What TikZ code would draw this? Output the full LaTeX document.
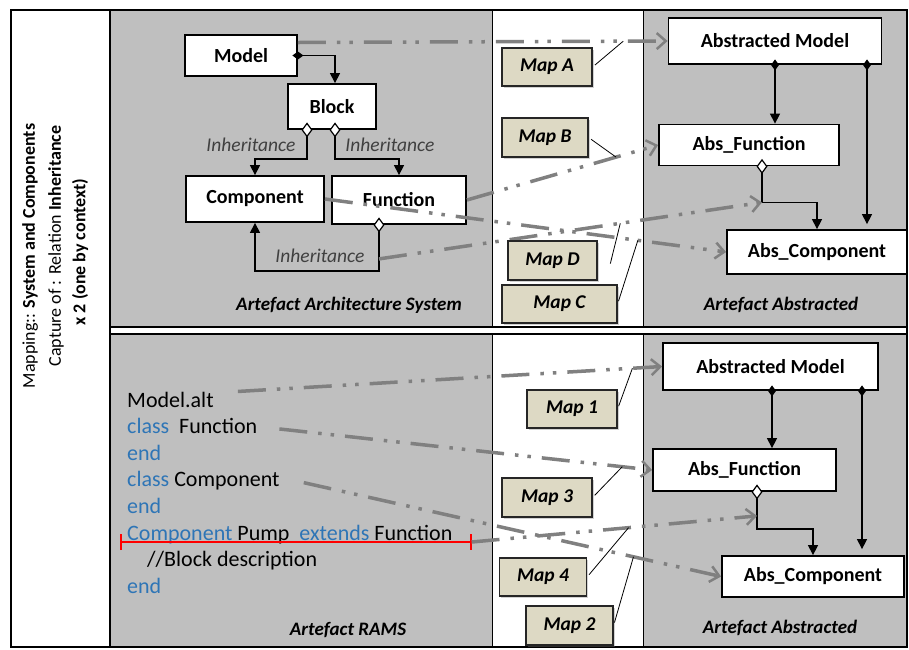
\documentclass[tikz,border=0pt]{standalone}
\usepackage{fontspec}
\setmainfont{Carlito}
\usepackage{tikz}
\usetikzlibrary{arrows.meta,shadows}
\definecolor{panelgray}{RGB}{191,191,191}
\definecolor{mapfill}{RGB}{221,217,196}
\definecolor{codeblue}{RGB}{46,117,182}
\definecolor{linkgray}{RGB}{128,128,128}
\tikzstyle{umlbox}=[draw,line width=1.8pt,fill=white,inner sep=0pt,font=\fontsize{20}{23}\selectfont\bfseries]
\tikzstyle{mapbox}=[draw=black!85,line width=1.2pt,fill=mapfill,inner sep=0pt,font=\fontsize{19.5}{22}\selectfont\bfseries\itshape,drop shadow={shadow xshift=1.5pt,shadow yshift=-1.5pt,opacity=.35}]
\tikzstyle{owns}=[line width=1.2pt,{Diamond[length=11pt,width=8pt]}-{Triangle[length=10pt,width=10pt]},shorten <=-5.5pt]
\tikzstyle{inherits}=[line width=1.2pt,{Diamond[fill=white,length=15pt,width=11pt]}-{Triangle[length=10pt,width=10pt]},shorten <=-7.5pt]
\tikzstyle{mapline}=[draw=linkgray,line width=3.5pt,dash pattern=on 28pt off 11pt on 3.5pt off 9pt on 3.5pt off 11pt,-{Straight Barb[length=9pt,width=16pt,line width=2.5pt]}]
\tikzstyle{maplead}=[line width=0.8pt,shorten <=3pt]
\tikzstyle{relname}=[font=\fontsize{19.5}{22}\selectfont\itshape,text=black!75]
\tikzstyle{panelname}=[font=\fontsize{19}{22}\selectfont\bfseries\itshape]
\tikzstyle{codeline}=[anchor=base west,inner sep=0pt,font=\fontsize{22}{26}\selectfont]
\tikzstyle{sidetitle}=[rotate=90,inner sep=0pt,font=\fontsize{18}{21}\selectfont]
\begin{document}
\begin{tikzpicture}[x=1pt,y=-1pt]
\useasboundingbox (0,0) rectangle (909,649);
\fill[white] (0,0) rectangle (909,649);
\fill[panelgray] (110,10) rectangle (492,327);
\fill[panelgray] (643,10) rectangle (907,327);
\fill[panelgray] (110,334) rectangle (492,647);
\fill[panelgray] (643,334) rectangle (907,647);
\draw[line width=1pt] (492,10) -- (492,327) (643,10) -- (643,327) (492,334) -- (492,647) (643,334) -- (643,647);
\draw[line width=1.2pt] (110,327) -- (907,327) (110,334) -- (907,334);
\draw[line width=2pt] (110,10) -- (110,647);
\draw[line width=2.5pt] (11,10) rectangle (907,647);

\node[sidetitle] (title1) at (30,256) {Mapping:: \textbf{System and Components}};
\node[sidetitle] (title2) at (56,246) {Capture of : Relation \textbf{Inheritance}};
\node[sidetitle,font=\fontsize{18}{21}\selectfont\bfseries] (title3) at (80,252) {x 2 (one by context)};

\node[umlbox,minimum width=112pt,minimum height=41pt] (model) at (241,55.5) {Model};
\node[umlbox,minimum width=88pt,minimum height=45pt] (block) at (332,106.5) {Block};
\node[umlbox,minimum width=138pt,minimum height=46pt] (comp) at (255,199) {Component};
\node[umlbox,minimum width=134pt,minimum height=48pt] (func) at (399,200) {Function};
\node[umlbox,minimum width=213pt,minimum height=46pt] (absmodel) at (775,41) {Abstracted Model};
\node[umlbox,minimum width=180pt,minimum height=41pt] (absfunc) at (749,145) {Abs\_Function};
\node[umlbox,minimum width=180pt,minimum height=44pt] (abscomp) at (817,252) {Abs\_Component};

\draw[owns] (model.east) -| ([xshift=3pt]block.north);
\draw[inherits] ([xshift=-25pt]block.south) -- ++(0,29) -| (comp.north);
\draw[inherits] ([xshift=3pt]block.south) -- ++(0,29) -| (func.north);
\draw[inherits] ([xshift=-20pt]func.south) -- ++(0,34) coordinate (inhT) -- ++(0,12) -| (comp.south);
\draw[owns] (absmodel.south) -- (absmodel.south |- absfunc.north);
\draw[owns,shorten >=5pt] ([xshift=92pt]absmodel.south) -- ([xshift=92pt]absmodel.south |- abscomp.north);
\draw[inherits] ([xshift=13pt]absfunc.south) -- ++(0,36) coordinate (inhA) -| (abscomp.north);

\node[relname] (inhlblA) at (251,145) {Inheritance};
\node[relname] (inhlblB) at (390,145) {Inheritance};
\node[relname] (inhlblC) at (320,256) {Inheritance};
\node[panelname] (sysname) at (349,305) {Artefact Architecture System};
\node[panelname] (absname) at (781,305) {Artefact Abstracted};

\draw[mapline] ([yshift=13pt]model.east) -- coordinate[pos=.88] (onA) (absmodel.west);
\draw[mapline] (func.east) -- coordinate[pos=.78] (onB) (absfunc.west);
\draw[mapline] (comp.east) -- coordinate[pos=.78] (onC) (abscomp.west);
\draw[mapline] (inhT) -- coordinate[pos=.63] (onD) (inhA);

\node[mapbox,minimum width=90pt,minimum height=38pt] (mapA) at (547,67) {Map A};
\node[mapbox,minimum width=86pt,minimum height=39pt] (mapB) at (545,137.5) {Map B};
\node[mapbox,minimum width=89pt,minimum height=39pt] (mapD) at (552.5,260.5) {Map D};
\node[mapbox,minimum width=115pt,minimum height=38pt] (mapC) at (559.5,304) {Map C};
\draw[maplead] (mapA.east) -- (onA);
\draw[maplead] (mapB.east) -- (onB);
\draw[maplead] ([xshift=12pt,yshift=-6pt]mapD.east) -- (onD);
\draw[maplead] (mapC.east) -- (onC);

\node[codeline] (code1) at (127,407) {Model.alt};
\node[codeline] (code2) at (127,433.5) {\textcolor{codeblue}{class}~ Function};
\node[codeline] (code3) at (127,460) {\textcolor{codeblue}{end}};
\node[codeline] (code4) at (127,486.5) {\textcolor{codeblue}{class} Component};
\node[codeline] (code5) at (127,513) {\textcolor{codeblue}{end}};
\node[codeline] (code6) at (127,540) {\textcolor{codeblue}{Component} Pump~ \textcolor{codeblue}{extends} Function};
\node[codeline] (code7) at (147,566.5) {//Block description};
\node[codeline] (code8) at (127,593) {\textcolor{codeblue}{end}};
\draw[red,line width=1.5pt,{Bar[width=16pt]}-{Bar[width=16pt]}] ([xshift=-7pt,yshift=-2pt]code6.base west) -- ([xshift=19pt,yshift=-2pt]code6.base east) coordinate (extR);

\node[umlbox,minimum width=215pt,minimum height=47pt] (absmodelR) at (770.5,366.5) {Abstracted Model};
\node[umlbox,minimum width=183pt,minimum height=42pt] (absfuncR) at (744.5,470) {Abs\_Function};
\node[umlbox,minimum width=182pt,minimum height=41pt] (abscompR) at (813,576.5) {Abs\_Component};

\draw[owns] ([xshift=1.5pt]absmodelR.south) -- ([xshift=1.5pt]absmodelR.south |- absfuncR.north);
\draw[owns,shorten >=6pt] ([xshift=91.5pt]absmodelR.south) -- ([xshift=91.5pt]absmodelR.south |- abscompR.north);
\draw[inherits] ([xshift=12.5pt]absfuncR.south) -- ++(0,24) coordinate (inhR) -- ++(0,13) -| (abscompR.north);

\node[panelname] (ramsname) at (348,630) {Artefact RAMS};
\node[panelname] (absnameR) at (780,628) {Artefact Abstracted};

\draw[mapline] (code1.east) ++(24,-8) -- coordinate[pos=.93] (on1) (absmodelR.west);
\draw[mapline] (code2.east) ++(22,3) -- coordinate[pos=.92] (on3) (absfuncR.west);
\draw[mapline] (code4.east) ++(24,2) -- coordinate[pos=.79] (on2) (abscompR.west);
\draw[mapline] (extR) -- coordinate[pos=.55] (on4) (inhR);

\node[mapbox,minimum width=90pt,minimum height=38pt] (map1) at (572,409) {Map 1};
\node[mapbox,minimum width=90pt,minimum height=39pt] (map3) at (547,497.5) {Map 3};
\node[mapbox,minimum width=87pt,minimum height=38pt] (map4) at (543,577) {Map 4};
\node[mapbox,minimum width=87pt,minimum height=39pt] (map2) at (569.5,625.5) {Map 2};
\draw[maplead] (map1.east) -- (on1);
\draw[maplead] (map3.east) -- (on3);
\draw[maplead] (map4.east) -- (on4);
\draw[maplead] (map2.east) -- (on2);
\end{tikzpicture}
\end{document}
